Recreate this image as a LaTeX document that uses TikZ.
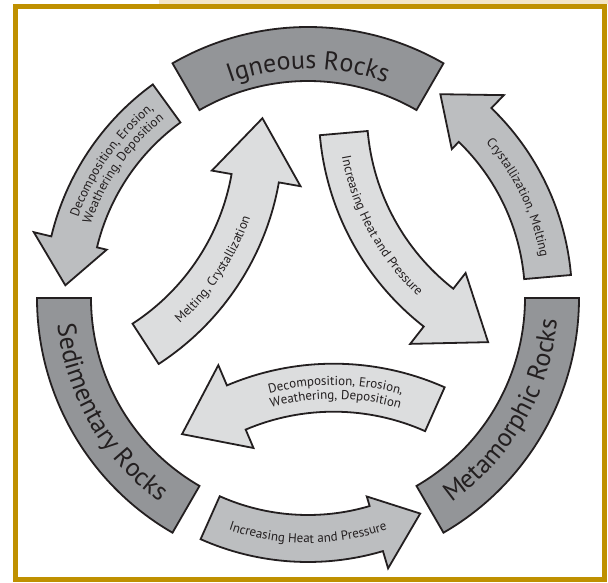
\documentclass[tikz,border=0pt]{standalone}
\usepackage{fontspec}
\setmainfont{PT Sans}
\usepackage{tikz}
\usetikzlibrary{decorations.text}
\usepackage{xcolor}

\definecolor{bandgray}{RGB}{147,149,152}
\definecolor{outergray}{RGB}{188,190,192}
\definecolor{innergray}{RGB}{220,221,222}
\definecolor{outline}{RGB}{35,31,32}
\definecolor{framegold}{RGB}{191,144,0}
\definecolor{framebeige}{RGB}{243,229,198}

\newcommand\bandfont{\fontsize{26}{26}\selectfont\color{outline}}
\newcommand\arrowfont{\fontsize{13}{13}\selectfont\color{outline}}

\begin{document}
\begin{tikzpicture}[x=1pt, y=1pt, line join=miter,
    rockband/.style={draw=outline, line width=1.8pt, fill=bandgray},
    ringarrow/.style={draw=outline, line width=1.8pt, fill=outergray},
    midarrow/.style={draw=outline, line width=1.8pt, fill=innergray},
    bandtext/.style={decorate, decoration={text along path, text align=center, text={|\bandfont|#1}}},
    arrowtext/.style={decorate, decoration={text along path, text align=center, text={|\arrowfont|#1}}}]

    % Frame
    \useasboundingbox (-308,-284) rectangle (300,298);
    \fill[framebeige] (-149,294) rectangle (300,298);
    \draw[framegold, line width=5pt] (-292.7,-281.5) rectangle (296.5,291.5);

    % Rock bands
    \draw[rockband] (60:217) arc[start angle=60, end angle=120, radius=217]
        -- (120:271) arc[start angle=120, end angle=60, radius=271] -- cycle;
    \draw[rockband] (180:217) arc[start angle=180, end angle=240, radius=217]
        -- (240:271) arc[start angle=240, end angle=180, radius=271] -- cycle;
    \draw[rockband] (300:217) arc[start angle=300, end angle=360, radius=217]
        -- (360:271) arc[start angle=360, end angle=300, radius=271] -- cycle;
    \path[bandtext=Igneous Rocks] (120:229) arc[start angle=120, end angle=60, radius=229];
    \path[bandtext=Sedimentary Rocks] (180:252) arc[start angle=180, end angle=240, radius=252];
    \path[bandtext=Metamorphic Rocks] (300:250) arc[start angle=300, end angle=360, radius=250];

    % Outer arrows (counterclockwise)
    \draw[ringarrow] (126:217) arc[start angle=126, end angle=166.5, radius=217]
        -- (166.5:207) -- (177:243) -- (166.5:282) -- (166.5:264)
        arc[start angle=166.5, end angle=126, radius=264] -- cycle;
    \path[arrowtext={Decomposition, Erosion,}] (166:243.5) arc[start angle=166, end angle=124, radius=243.5];
    \path[arrowtext={Weathering, Deposition}] (166:229.5) arc[start angle=166, end angle=124, radius=229.5];

    \draw[ringarrow] (246:217) arc[start angle=246, end angle=286.5, radius=217]
        -- (286.5:207) -- (297.5:243) -- (286.5:282) -- (286.5:264)
        arc[start angle=286.5, end angle=246, radius=264] -- cycle;
    \path[arrowtext={Increasing Heat and Pressure}] (246:245) arc[start angle=246, end angle=294, radius=245];

    \draw[ringarrow] (5:217) arc[start angle=5, end angle=46, radius=217]
        -- (46:207) -- (57:243) -- (46:282) -- (46:264)
        arc[start angle=46, end angle=5, radius=264] -- cycle;
    \path[arrowtext={Crystallization, Melting}] (46:236) arc[start angle=46, end angle=5, radius=236];

    % Inner arrows (clockwise)
    \begin{scope}[shift={(-298,163)}]
        \draw[midarrow] (-57:225) arc[start angle=-57, end angle=-10, radius=225]
            -- (-10:205) -- (3.8:253) -- (-10:295) -- (-10:273)
            arc[start angle=-10, end angle=-57, radius=273] -- cycle;
        \path[arrowtext={Melting, Crystallization}] (-57:254) arc[start angle=-57, end angle=-10, radius=254];
    \end{scope}

    \begin{scope}[rotate=-118, shift={(-298,163)}]
        \draw[midarrow] (-57:225) arc[start angle=-57, end angle=-10, radius=225]
            -- (-10:205) -- (3.8:253) -- (-10:295) -- (-10:273)
            arc[start angle=-10, end angle=-57, radius=273] -- cycle;
        \path[arrowtext={Increasing Heat and Pressure}] (-62:254) arc[start angle=-62, end angle=-5, radius=254];
    \end{scope}

    \begin{scope}[rotate=123, shift={(-298,163)}]
        \draw[midarrow] (-57:225) arc[start angle=-57, end angle=-10, radius=225]
            -- (-10:205) -- (3.8:253) -- (-10:295) -- (-10:273)
            arc[start angle=-10, end angle=-57, radius=273] -- cycle;
        \path[arrowtext={Decomposition, Erosion,}] (-10:251.5) arc[start angle=-10, end angle=-57, radius=251.5];
        \path[arrowtext={Weathering, Deposition}] (-10:237.5) arc[start angle=-10, end angle=-57, radius=237.5];
    \end{scope}

\end{tikzpicture}
\end{document}
